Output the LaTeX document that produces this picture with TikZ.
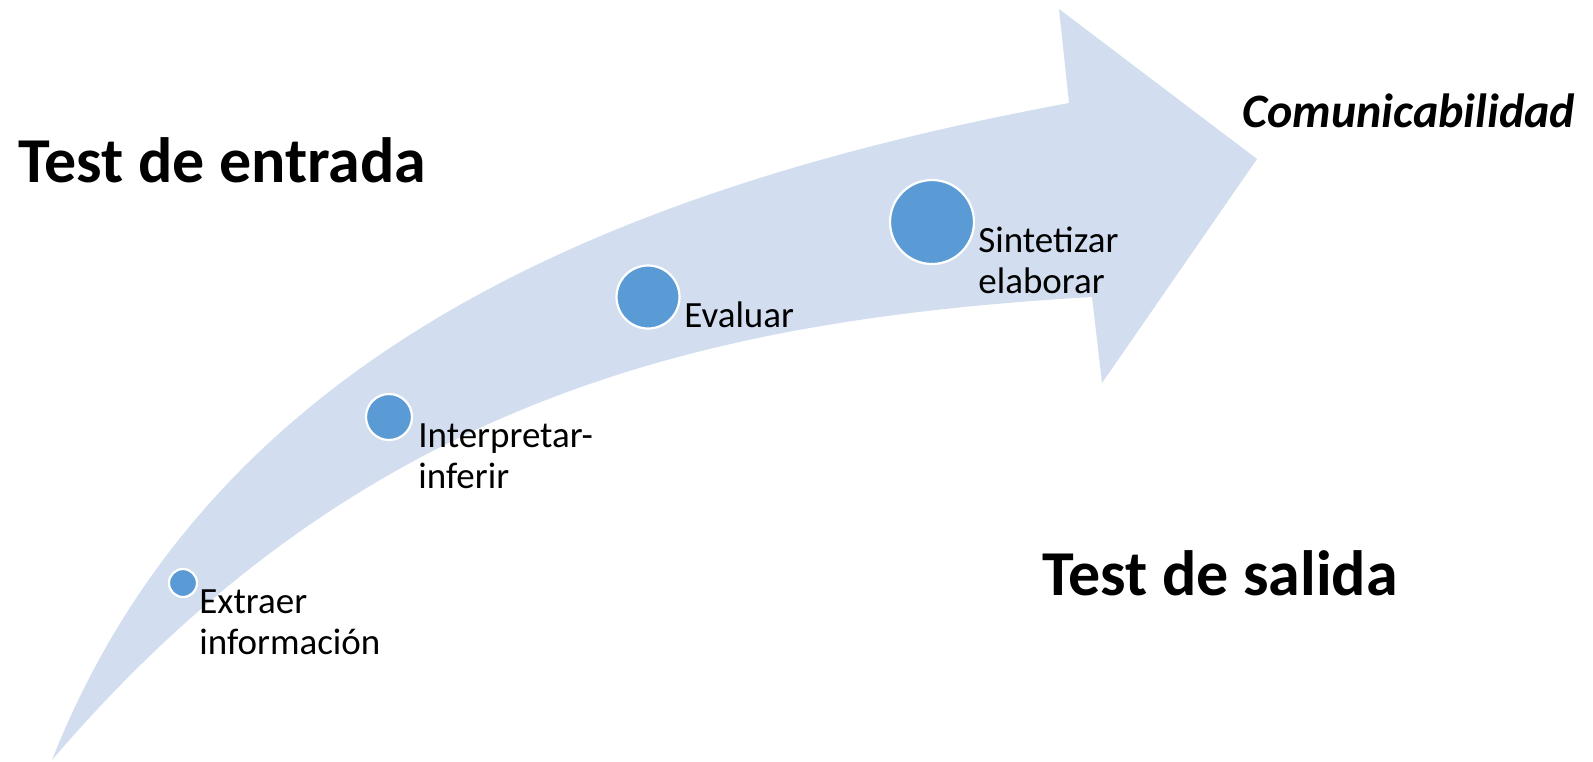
\documentclass[tikz,border=0pt]{standalone}
\usepackage{fontspec}
\setmainfont{Carlito}
\definecolor{arrowfill}{HTML}{D2DEEF}
\definecolor{dotfill}{HTML}{5B9BD5}
\begin{document}
\begin{tikzpicture}[x=0.5pt,y=-0.5pt,
  dot/.style={circle, fill=dotfill, draw=white, line width=1.1pt, inner sep=0pt},
  bigtext/.style={font=\fontsize{32}{38}\selectfont\bfseries, inner sep=0pt, anchor=base west},
  lbl/.style={font=\fontsize{18.5}{20.25}\selectfont, inner sep=0pt, anchor=base west, align=left},
  commtext/.style={font=\fontsize{24}{28}\selectfont\bfseries\itshape, inner sep=0pt, anchor=base west}]
\useasboundingbox (0,0) rectangle (1593,761);
% curved arrow
\fill[arrowfill] (52,760) .. controls (210,360) and (600,190) .. (1069,103)
  -- (1059,9) -- (1257,159) -- (1102,383) -- (1092,297)
  .. controls (700,320) and (360,400) .. (52,760) -- cycle;
% dots
\node[dot, minimum size=14pt] (c1) at (183,583) {};
\node[dot, minimum size=23pt] (c2) at (389,417) {};
\node[dot, minimum size=31.5pt] (c3) at (648,297) {};
\node[dot, minimum size=42pt] (c4) at (932,222) {};
% labels (anchor = baseline of last line)
\node[lbl] (l1) at (199,654) {Extraer\\información};
\node[lbl] (l2) at (418,488) {Interpretar-\\inferir};
\node[lbl] (l3) at (684,327) {Evaluar};
\node[lbl] (l4) at (978,293) {Sintetizar\\elaborar};
% titles
\node[bigtext] (tin) at (18,182) {Test de entrada};
\node[bigtext] (tout) at (1042,595) {Test de salida};
\node[commtext] (com) at (1242,127) {Comunicabilidad};
\end{tikzpicture}
\end{document}
